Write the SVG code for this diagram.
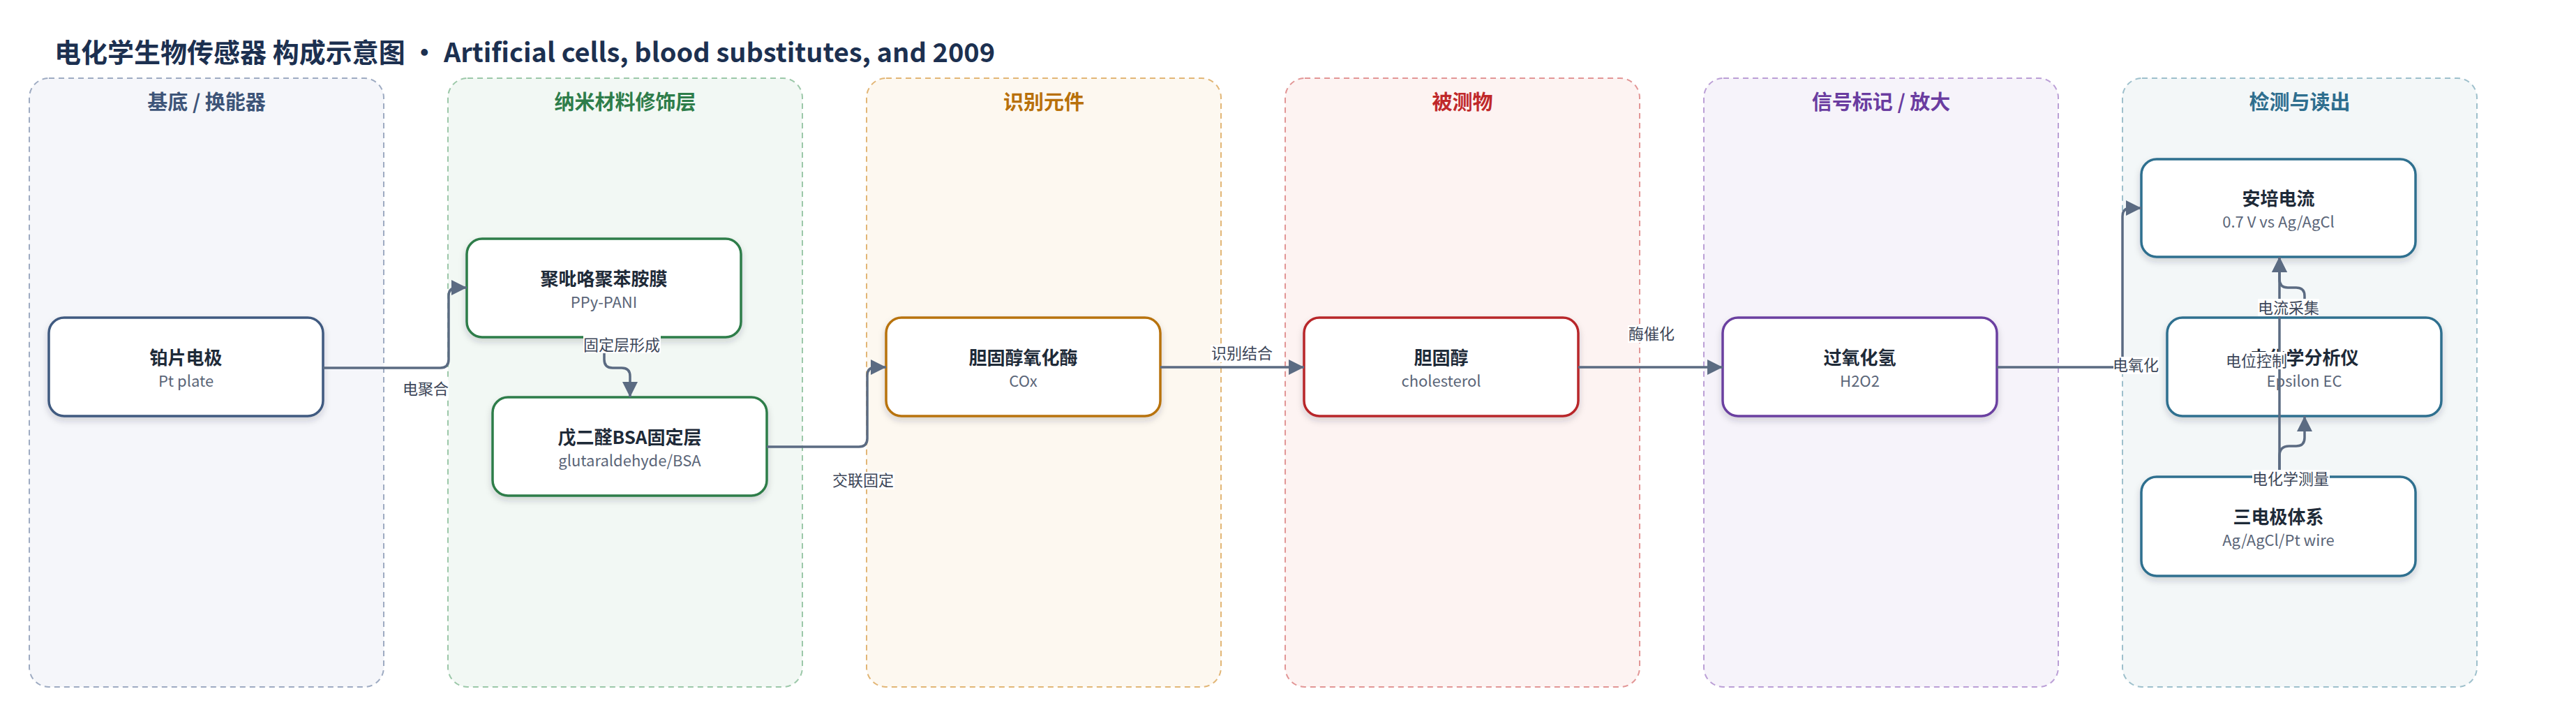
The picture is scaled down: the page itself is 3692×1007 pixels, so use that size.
<svg xmlns="http://www.w3.org/2000/svg" width="3692" height="1007" viewBox="0 0 3692 1007">
<defs>
<style>
text{font-family:"Noto Sans CJK SC","Noto Sans",sans-serif}
.title{font-size:38px;font-weight:700;fill:#1c3050}
.lane{stroke-width:2;stroke-dasharray:8 6}
.lt{font-size:29px;font-weight:700;text-anchor:middle}
.node{fill:#fff;stroke-width:3.5;filter:url(#sh)}
.nt{font-size:26px;font-weight:700;fill:#1e2a38;text-anchor:middle}
.ns{font-size:22px;fill:#5a6578;text-anchor:middle}
.edge{fill:none;stroke:#5b6b82;stroke-width:3.5}
.lb{font-size:22px;fill:#3c4658;text-anchor:middle}
.lbg{fill:#fff}
</style>
<filter id="sh" x="-10%" y="-10%" width="120%" height="130%">
<feDropShadow dx="0" dy="5" stdDeviation="5" flood-color="#1e2a38" flood-opacity="0.18"/>
</filter>
<marker id="ar" markerUnits="userSpaceOnUse" markerWidth="22" markerHeight="22" viewBox="0 0 20 20" refX="20" refY="10" orient="auto">
<path d="M0,0 L20,10 L0,20 Z" fill="#5b6b82"/>
</marker>
</defs>
<rect width="3692" height="1007" fill="#ffffff"/>
<text class="title" x="78" y="89">电化学生物传感器 构成示意图 · Artificial cells, blood substitutes, and 2009</text>

<g id="lanes">
<g id="lane-substrate"><rect class="lane" x="42" y="112" width="508" height="872" rx="28" fill="#f5f6fa" stroke="#9eabc2"/><text class="lt" x="296" y="157" fill="#3d5478">基底 / 换能器</text></g>
<g id="lane-nano"><rect class="lane" x="642" y="112" width="508" height="872" rx="28" fill="#f2f8f4" stroke="#9cc8a9"/><text class="lt" x="896" y="157" fill="#2e7d4a">纳米材料修饰层</text></g>
<g id="lane-recog"><rect class="lane" x="1242" y="112" width="508" height="872" rx="28" fill="#fdf8f0" stroke="#e2b676"/><text class="lt" x="1496" y="157" fill="#b8700a">识别元件</text></g>
<g id="lane-analyte"><rect class="lane" x="1842" y="112" width="508" height="872" rx="28" fill="#fdf3f2" stroke="#e29696"/><text class="lt" x="2096" y="157" fill="#c0282a">被测物</text></g>
<g id="lane-signal"><rect class="lane" x="2442" y="112" width="508" height="872" rx="28" fill="#f6f3fa" stroke="#bb9fd6"/><text class="lt" x="2696" y="157" fill="#6a3ca0">信号标记 / 放大</text></g>
<g id="lane-detect"><rect class="lane" x="3042" y="112" width="508" height="872" rx="28" fill="#f3f7f8" stroke="#9ec0cc"/><text class="lt" x="3296" y="157" fill="#2e6e8e">检测与读出</text></g>
</g>

<g id="n1"><rect class="node" x="70" y="455" width="393" height="141" rx="22" stroke="#3f5a80"/><text class="nt" x="266.5" y="522">铂片电极</text><text class="ns" x="266.5" y="554">Pt plate</text></g>
<g id="n2"><rect class="node" x="669" y="342" width="393" height="141" rx="22" stroke="#2e7d4a"/><text class="nt" x="865.5" y="409">聚吡咯聚苯胺膜</text><text class="ns" x="865.5" y="441">PPy-PANI</text></g>
<g id="n3"><rect class="node" x="706" y="569" width="393" height="141" rx="22" stroke="#2e7d4a"/><text class="nt" x="902.5" y="636">戊二醛BSA固定层</text><text class="ns" x="902.5" y="668">glutaraldehyde/BSA</text></g>
<g id="n4"><rect class="node" x="1270" y="455" width="393" height="141" rx="22" stroke="#b8730f"/><text class="nt" x="1466.5" y="522">胆固醇氧化酶</text><text class="ns" x="1466.5" y="554">COx</text></g>
<g id="n5"><rect class="node" x="1869" y="455" width="393" height="141" rx="22" stroke="#b8282a"/><text class="nt" x="2065.5" y="522">胆固醇</text><text class="ns" x="2065.5" y="554">cholesterol</text></g>
<g id="n6"><rect class="node" x="2469" y="455" width="393" height="141" rx="22" stroke="#6b3fa0"/><text class="nt" x="2665.5" y="522">过氧化氢</text><text class="ns" x="2665.5" y="554">H2O2</text></g>
<g id="n7"><rect class="node" x="3069" y="228" width="393" height="140" rx="22" stroke="#2f6f8f"/><text class="nt" x="3265.5" y="294">安培电流</text><text class="ns" x="3265.5" y="326">0.7 V vs Ag/AgCl</text></g>
<g id="n8"><rect class="node" x="3106" y="455" width="393" height="141" rx="22" stroke="#2f6f8f"/><text class="nt" x="3302.5" y="522">电化学分析仪</text><text class="ns" x="3302.5" y="554">Epsilon EC</text></g>
<g id="n9"><rect class="node" x="3069" y="683" width="393" height="142" rx="22" stroke="#2f6f8f"/><text class="nt" x="3265.5" y="750">三电极体系</text><text class="ns" x="3265.5" y="782">Ag/AgCl/Pt wire</text></g>

<g id="connectors">
<path class="edge" marker-end="url(#ar)" d="M463,527 H631 Q643,527 643,515 V424 Q643,412 655,412 H669"/>
<path class="edge" marker-end="url(#ar)" d="M866,483 V515 Q866,527 878,527 H891 Q903,527 903,539 V569"/>
<path class="edge" marker-end="url(#ar)" d="M1099,640 H1231 Q1243,640 1243,628 V538 Q1243,526 1255,526 H1270"/>
<path class="edge" marker-end="url(#ar)" d="M1663,526 H1869"/>
<path class="edge" marker-end="url(#ar)" d="M2262,526 H2469"/>
<path class="edge" marker-end="url(#ar)" d="M2862,526 H3030 Q3042,526 3042,514 V310 Q3042,298 3054,298 H3069"/>
<path class="edge" marker-end="url(#ar)" d="M3267,683 V368"/>
<path class="edge" marker-end="url(#ar)" d="M3267,683 V653 Q3267,639 3281,639 H3291 Q3303,639 3303,627 V596"/>
<path class="edge" marker-end="url(#ar)" d="M3303,455 V424 Q3303,412 3291,412 H3279 Q3267,412 3267,400 V368"/>
<g id="edge-labels">
<rect class="lbg" x="577" y="545" width="66" height="25"/><text class="lb" x="610" y="565">电聚合</text>
<rect class="lbg" x="836" y="481" width="111" height="25"/><text class="lb" x="891" y="502">固定层形成</text>
<rect class="lbg" x="1193" y="676" width="89" height="25"/><text class="lb" x="1237" y="696">交联固定</text>
<rect class="lbg" x="1735" y="494" width="90" height="25"/><text class="lb" x="1780" y="514">识别结合</text>
<rect class="lbg" x="2333" y="466" width="67" height="25"/><text class="lb" x="2367" y="486">酶催化</text>
<rect class="lbg" x="3029" y="511" width="65" height="25"/><text class="lb" x="3061" y="531">电氧化</text>
<rect class="lbg" x="3190" y="504" width="88" height="25"/><text class="lb" x="3234" y="525">电位控制</text>
<rect class="lbg" x="3236" y="428" width="88" height="25"/><text class="lb" x="3280" y="449">电流采集</text>
<rect class="lbg" x="3228" y="673" width="111" height="25"/><text class="lb" x="3283" y="694">电化学测量</text>
</g>
</g>
</svg>
